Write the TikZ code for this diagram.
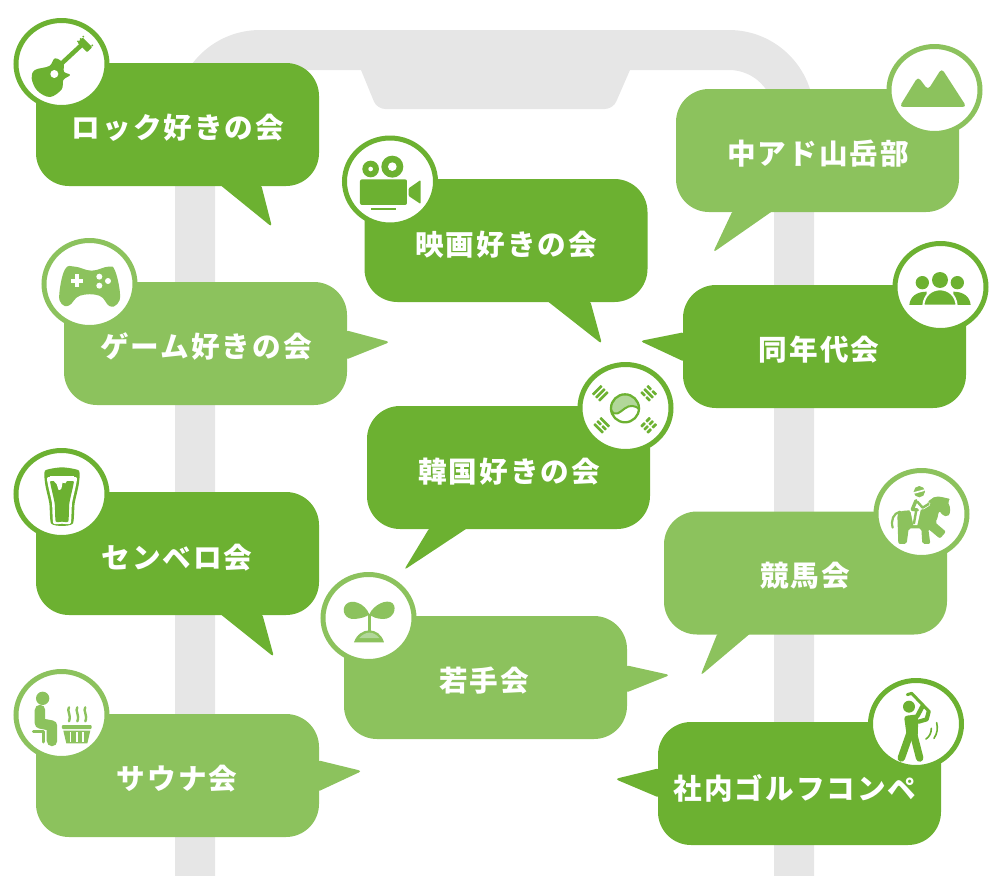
\documentclass[tikz,border=0pt]{standalone}
\usepackage{fontspec}
\usetikzlibrary{shapes.geometric}
\newfontfamily\jp[LetterSpace=7]{Noto Sans CJK JP}
\definecolor{darkg}{HTML}{6CB131}
\definecolor{lightg}{HTML}{8CC25D}
\definecolor{palerg}{HTML}{B2D79A}
\definecolor{phone}{HTML}{E6E6E6}
\tikzset{
  bubble/.style={rectangle,rounded corners=33pt,minimum width=283pt,minimum height=123pt,inner sep=0pt},
  lbl/.style={text=white,inner sep=0pt,font=\jp\bfseries\fontsize{28.6}{30}\selectfont},
  ring/.style={ellipse,fill=white,draw=#1,line width=5pt,minimum width=91pt,minimum height=87pt,inner sep=0pt},
  zoomat/.style args={#1,#2}{shift={(#1,#2)},x=.3333pt,y=-.3333pt},
  tail/.style={rounded corners=3.5pt}
}
\newcommand{\trig}[6]{%
  \begin{scope}[shift={(#1,#2)},rotate=#3]
    \foreach \o/\k in {-13/#4,0/#5,13/#6}{
      \ifnum\k=0
        \fill[rounded corners=.5pt] (-19,\o-4) rectangle (19,\o+4);
      \else
        \fill[rounded corners=.5pt] (-19,\o-4) rectangle (-2.5,\o+4);
        \fill[rounded corners=.5pt] (2.5,\o-4) rectangle (19,\o+4);
      \fi
    }
  \end{scope}}
\begin{document}
\begin{tikzpicture}[x=1pt,y=-1pt]
\useasboundingbox (0,0) rectangle (989,876);
% phone outline
\fill[phone] (175,876) [rounded corners=85pt] -- (175,30) -- (814,30) [sharp corners] -- (814,876) -- (774,876) [rounded corners=45pt] -- (774,70) [sharp corners] -- (630,70) [rounded corners=8pt] -- (613,109) -- (377,109) [sharp corners] -- (361,70) [rounded corners=45pt] -- (215,70) [sharp corners] -- (215,876) -- cycle;

% bubbles and tails
\node[bubble,fill=darkg] (rock) at (177.5,124.5) {};
\fill[darkg,tail] (219,184) -- (272,227) -- (261,184) -- cycle;
\node[bubble,fill=darkg] (movie) at (506,240.5) {};
\fill[darkg,tail] (546,300) -- (602,344) -- (590,300) -- cycle;
\node[bubble,fill=lightg] (mount) at (817.5,150.5) {};
\fill[lightg,tail] (774,210) -- (713,252.5) -- (733,210) -- cycle;
\node[bubble,fill=lightg] (game) at (205.5,343.5) {};
\fill[lightg,tail] (345,330) -- (390,342) -- (345,360) -- cycle;
\node[bubble,fill=darkg] (age) at (824.5,346.5) {};
\fill[darkg,tail] (685,332) -- (640,341) -- (685,362) -- cycle;
\node[bubble,fill=darkg] (korea) at (508.5,467.5) {};
\fill[darkg,tail] (469,527) -- (404,570) -- (430,527) -- cycle;
\node[bubble,fill=lightg] (horse) at (805.5,573) {};
\fill[lightg,tail] (752,632) -- (700.5,675.5) -- (718,632) -- cycle;
\node[bubble,fill=darkg] (beer) at (177.5,553.5) {};
\fill[darkg,tail] (219,613) -- (274,657) -- (262,613) -- cycle;
\node[bubble,fill=lightg] (young) at (485.5,677.5) {};
\fill[lightg,tail] (625,665) -- (670,675) -- (625,693) -- cycle;
\node[bubble,fill=lightg] (sauna) at (177.5,775.5) {};
\fill[lightg,tail] (317,760) -- (362,771) -- (317,792) -- cycle;
\node[bubble,fill=darkg] (golf) at (799.5,783.5) {};
\fill[darkg,tail] (660,768) -- (615,779) -- (660,798) -- cycle;

% labels
\node[lbl] (t1) at (178,128) {ロック好きの会};
\node[lbl] (t2) at (506,245) {映画好きの会};
\node[lbl] (t3) at (818,154) {中アド山岳部};
\node[lbl] (t4) at (206,347) {ゲーム好きの会};
\node[lbl] (t5) at (819,350) {同年代会};
\node[lbl] (t6) at (509,472) {韓国好きの会};
\node[lbl] (t7) at (805,576) {競馬会};
\node[lbl] (t8) at (177,558) {センベロ会};
\node[lbl] (t9) at (484,681) {若手会};
\node[lbl] (t10) at (177,779) {サウナ会};
\node[lbl] (t11) at (795,788) {社内ゴルフコンペ};

% icon discs
\node[ring=darkg] (c1) at (61.5,64) {};
\node[ring=darkg] (c2) at (390,181.5) {};
\node[ring=lightg] (c3) at (934.5,90) {};
\node[ring=lightg] (c4) at (89.5,284) {};
\node[ring=darkg] (c5) at (940.5,287) {};
\node[ring=darkg] (c6) at (625.5,408) {};
\node[ring=lightg] (c7) at (921.5,514) {};
\node[ring=darkg] (c8) at (61.5,494) {};
\node[ring=lightg] (c9) at (368.5,618) {};
\node[ring=lightg] (c10) at (61.5,715) {};
\node[ring=darkg] (c11) at (916,724) {};

% guitar
\begin{scope}[zoomat={0,0},darkg]
  \fill plot[smooth cycle,tension=.6] coordinates {(95,235) (105,210) (148,198) (165,175) (190,190) (192,215) (210,225) (190,240) (185,268) (150,291) (112,272)};
  \draw[line width=4.5pt] (180,195) -- (250,130);
  \fill[rotate around={-45:(253,133)},rounded corners=1pt] (235,122) rectangle (276,144);
  \foreach \p in {(234,124),(242,117),(250,110),(263,150),(270,143),(277,136)} \fill \p circle (3);
  \fill[white] (163,222) circle (12);
\end{scope}
% film camera
\begin{scope}[zoomat={330,120},darkg]
  \fill (122,147) circle (25); \fill[white] (122,147) circle (7);
  \fill (187,140) circle (33); \fill[white] (187,140) circle (13);
  \fill[rounded corners=2pt] (90,178) rectangle (231,255);
  \fill[rounded corners=1pt] (236,205) -- (272,180) -- (272,252) -- (236,228) -- cycle;
  \fill (122,264) rectangle (198,271);
\end{scope}
% mountains
\begin{scope}[zoomat={880,30},lightg]
  \fill[rounded corners=4pt] (58,231) -- (114,140) -- (144,180) -- (185,115) -- (260,231) -- cycle;
\end{scope}
% controller
\begin{scope}[zoomat={30,230},lightg]
  \fill plot[smooth cycle,tension=.7] coordinates {(105,118) (135,110) (185,122) (235,110) (255,122) (270,190) (262,222) (238,228) (208,197) (150,197) (118,226) (95,222) (88,190)};
  \fill[white] (122,147) rectangle (160,159);
  \fill[white] (135,133) rectangle (147,171);
  \fill[white] (208,140) circle (9) (234,153) circle (9) (208,167) circle (9);
\end{scope}
% people
\begin{scope}[zoomat={880,235},darkg]
  \fill (127,143) circle (20) (232,143) circle (20);
  \fill (88,210) .. controls (90,185) and (110,170) .. (140,170) -- (140,210) -- cycle;
  \fill (272,210) .. controls (270,185) and (250,170) .. (220,170) -- (220,210) -- cycle;
  \filldraw[draw=white,line width=2pt] (130,212) .. controls (132,180) and (155,163) .. (180,163) .. controls (205,163) and (228,180) .. (230,212) -- cycle;
  \fill[white] (85,211) rectangle (275,216);
  \fill (180,135) circle (24);
\end{scope}
% taegeuk
\begin{scope}[zoomat={570,350},darkg]
  \fill[palerg] (165,175) circle (42);
  \fill[white] (122,178) .. controls (135,205) and (150,185) .. (165,175) .. controls (178,165) and (195,165) .. (209,178) .. controls (208,200) and (190,220) .. (165,220) .. controls (140,220) and (125,200) .. (122,178) -- cycle;
  \draw[line width=2pt] (122,178) .. controls (135,205) and (150,185) .. (165,175) .. controls (178,165) and (195,165) .. (209,178);
  \draw[line width=2.3pt] (165,175) circle (42);
  \trig{91}{130}{45}{0}{0}{0}
  \trig{236}{130}{-45}{1}{0}{1}
  \trig{95}{226}{-45}{0}{1}{0}
  \trig{236}{226}{45}{1}{1}{1}
\end{scope}
% horse and rider
\begin{scope}[zoomat={860,460},lightg]
  \draw[line width=2.2pt,line cap=round] (98,203) .. controls (92,180) and (100,160) .. (120,155);
  \fill[rounded corners=2pt] (112,165) .. controls (118,152) and (140,150) .. (185,152) .. controls (200,130) and (215,108) .. (240,110) -- (272,117) -- (262,125) .. controls (272,140) and (272,160) .. (262,170) .. controls (245,165) and (240,155) .. (235,155) .. controls (235,170) and (230,180) .. (225,187) -- (258,215) -- (240,236) -- (205,207) -- (211,252) -- (187,252) -- (184,205) -- (146,205) -- (140,252) -- (115,252) -- cycle;
  \fill (178,95) circle (17);
  \fill[white,rotate around={15:(178,95)}] (162,92) rectangle (194,97);
  \draw[white,line width=4.6pt,line cap=round,line join=round] (168,122) -- (155,150);
  \draw[white,line width=3.8pt,line cap=round,line join=round] (172,125) -- (188,143) -- (206,132);
  \fill[white] (150,145) -- (182,150) -- (172,195) -- (160,195) -- cycle;
  \draw[line width=3.4pt,line cap=round,line join=round] (168,122) -- (157,148) -- (172,150);
  \draw[line width=2.4pt,line cap=round,line join=round] (172,125) -- (188,143) -- (206,132);
  \draw[line width=2.4pt,line cap=round] (168,155) -- (162,190);
\end{scope}
% beer
\begin{scope}[zoomat={0,440},darkg]
  \fill plot[smooth cycle,tension=.35] coordinates {(135,92) (186,82) (237,92) (236,135) (224,190) (219,250) (186,258) (153,250) (148,190) (136,135)};
  \fill[white] plot[smooth cycle,tension=.35] coordinates {(143,112) (186,110) (229,112) (228,135) (216,190) (212,250) (186,251) (160,250) (156,190) (144,135)};
  \fill plot[smooth cycle,tension=.3] coordinates {(152,122) (186,120) (220,122) (220,135) (208,190) (205,244) (186,245) (167,244) (164,190) (152,135)};
  \fill[white] (150,109) rectangle (222,122);
  \fill[white] plot[smooth cycle,tension=.4] coordinates {(162,118) (200,118) (196,130) (188,128) (184,146) (176,150) (170,132) (164,126)};
  \fill (146,93) rectangle (226,108);
\end{scope}
% sprout
\begin{scope}[zoomat={310,565},lightg]
  \fill (178,148) .. controls (165,115) and (125,100) .. (108,118) .. controls (92,135) and (105,165) .. (135,162) .. controls (155,160) and (170,155) .. (178,148) -- cycle;
  \fill (178,148) .. controls (190,120) and (230,100) .. (248,115) .. controls (262,130) and (250,162) .. (220,162) .. controls (200,162) and (185,155) .. (178,148) -- cycle;
  \draw[line width=2.6pt] (178,146) -- (178,200);
  \fill (132,232) .. controls (140,208) and (160,196) .. (178,196) .. controls (197,196) and (215,208) .. (222,232) -- cycle;
  \fill[palerg] (148,219) .. controls (158,208) and (168,203) .. (178,203) .. controls (190,203) and (198,208) .. (208,219) -- cycle;
\end{scope}
% sauna
\begin{scope}[zoomat={0,660},lightg]
  \fill (128,115) circle (20);
  \draw[line width=10.5pt,line cap=round,line join=round] (120,150) -- (120,190) -- (156,197) -- (156,243);
  \draw[line width=3pt,line cap=round,line join=round] (100,215) -- (130,215) -- (130,246);
  \foreach \x in {207,232,256}
    \draw[line width=2.4pt,line cap=round] (\x,142) .. controls (\x-8,152) and (\x+8,164) .. (\x,184);
  \fill[rounded corners=1pt] (186,195) rectangle (275,207);
  \fill (190,212) -- (271,212) -- (262,250) -- (199,250) -- cycle;
  \foreach \x in {212,231,250} \fill[white] (\x-2.5,216) rectangle (\x+2.5,246);
\end{scope}
% golfer
\begin{scope}[zoomat={860,670},darkg]
  \fill (147,110) circle (18);
  \draw[line width=3pt,line cap=round,line join=round] (142,74) -- (155,70) -- (205,122);
  \draw[line width=4.5pt,line cap=round,line join=round] (172,138) -- (188,108);
  \draw[line width=4.2pt,line cap=round,line join=round] (176,155) -- (200,148) -- (206,125);
  \fill[rounded corners=3pt] (132,138) -- (174,133) -- (174,180) -- (172,210) -- (142,210) -- cycle;
  \draw[line width=7.5pt,line cap=round,line join=round] (150,190) -- (124,264);
  \draw[line width=7.5pt,line cap=round,line join=round] (160,190) -- (179,264);
  \draw[line width=1.6pt,line cap=round] (198,207) .. controls (208,200) and (214,190) .. (214,175);
  \draw[line width=1.6pt,line cap=round] (222,205) .. controls (232,190) and (234,175) .. (230,158);
\end{scope}
\end{tikzpicture}
\end{document}
